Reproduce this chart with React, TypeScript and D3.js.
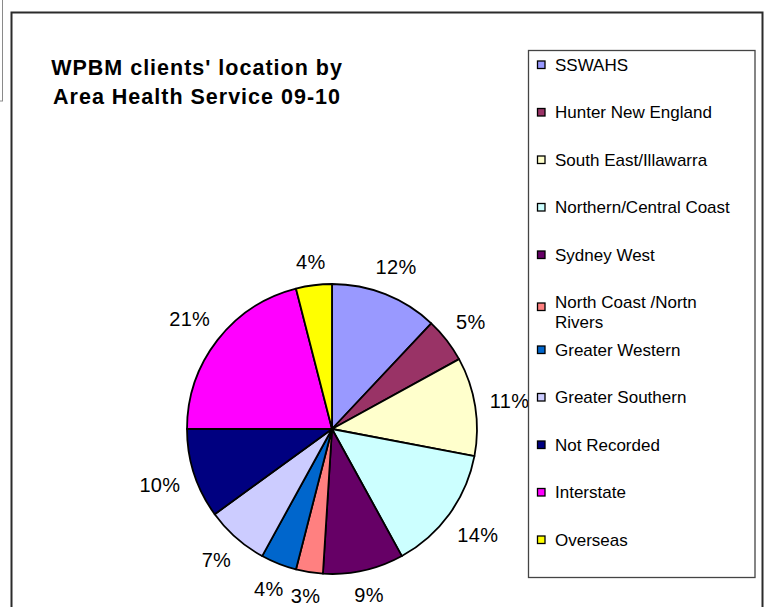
import { useEffect, useRef } from 'react';
import * as d3 from 'd3';

// Area Health Service categories (legend order, clockwise from 12 o'clock)
const regions = [
  'SSWAHS',
  'Hunter New England',
  'South East/Illawarra',
  'Northern/Central Coast',
  'Sydney West',
  'North Coast /Nortn\nRivers',
  'Greater Western',
  'Greater Southern',
  'Not Recorded',
  'Interstate',
  'Overseas',
];

// Percent of WPBM clients
const shares = [12, 5, 11, 14, 9, 3, 4, 7, 10, 21, 4];

const sliceColors = [
  '#9999ff',
  '#993366',
  '#ffffcc',
  '#ccffff',
  '#660066',
  '#ff8080',
  '#0066cc',
  '#ccccff',
  '#000080',
  '#ff00ff',
  '#ffff00',
];

const titleLines = ["WPBM clients' location by", 'Area Health Service 09-10'];

const FONT = 'Arial, "Liberation Sans", sans-serif';

export default function App() {
  const svgRef = useRef<SVGSVGElement>(null);

  useEffect(() => {
    if (!svgRef.current) return;
    const root = d3.select(svgRef.current);
    root.selectAll('*').remove();

    const width = 768;
    const height = 607;
    root.attr('width', width).attr('height', height);

    root.append('rect').attr('width', width).attr('height', height).attr('fill', 'white');

    // grey edge of a neighbouring object at top-left
    root
      .append('rect')
      .attr('x', -50)
      .attr('y', -10)
      .attr('width', 52.5)
      .attr('height', 111)
      .attr('fill', 'none')
      .attr('stroke', '#8a8a8a')
      .attr('stroke-width', 1);

    // chart frame
    root
      .append('rect')
      .attr('x', 11.5)
      .attr('y', 12.5)
      .attr('width', 751)
      .attr('height', 620)
      .attr('fill', 'white')
      .attr('stroke', '#2b2b2b')
      .attr('stroke-width', 2);

    // Title
    titleLines.forEach((t, i) => {
      root
        .append('text')
        .attr('x', 197)
        .attr('y', 75 + i * 28.5)
        .attr('text-anchor', 'middle')
        .attr('font-family', FONT)
        .attr('font-size', '21.5px')
        .attr('font-weight', 'bold')
        .attr('letter-spacing', '1px')
        .attr('fill', '#000')
        .text(t);
    });

    // Pie
    const cx = 332;
    const cy = 429;
    const radius = 145;

    const g = root.append('g').attr('transform', `translate(${cx}, ${cy})`);

    const pie = d3
      .pie<number>()
      .sort(null)
      .value(d => d);
    const arcs = pie(shares);

    const arc = d3.arc<d3.PieArcDatum<number>>().innerRadius(0).outerRadius(radius);

    g.selectAll('path.slice')
      .data(arcs)
      .enter()
      .append('path')
      .attr('class', 'slice')
      .attr('d', arc)
      .attr('fill', (d, i) => sliceColors[i])
      .attr('stroke', '#000')
      .attr('stroke-width', 1.8)
      .attr('stroke-linejoin', 'round');

    // Data labels sit a fixed gap outside the rim, pushed out by their box size
    const gap = 14;
    const halfH = 8;
    const labels = g
      .selectAll('text.pct')
      .data(arcs)
      .enter()
      .append('text')
      .attr('class', 'pct')
      .attr('text-anchor', 'middle')
      .attr('dy', '0.36em')
      .attr('font-family', FONT)
      .attr('font-size', '20px')
      .attr('letter-spacing', '0.3px')
      .attr('fill', '#000')
      .text(d => `${d.data}%`);

    labels.attr('transform', function (d) {
      const halfW = (this as SVGTextElement).getComputedTextLength() / 2;
      const a = (d.startAngle + d.endAngle) / 2;
      const s = Math.sin(a);
      const c = Math.cos(a);
      const dist = radius + gap + Math.abs(s) * halfW + Math.abs(c) * halfH;
      return `translate(${s * dist}, ${-c * dist})`;
    });

    // Legend
    const legend = root.append('g');
    legend
      .append('rect')
      .attr('x', 528.5)
      .attr('y', 50.5)
      .attr('width', 226.5)
      .attr('height', 527)
      .attr('fill', 'white')
      .attr('stroke', '#444')
      .attr('stroke-width', 1.3);

    const rowY = d3
      .scaleLinear()
      .domain([0, regions.length - 1])
      .range([64.5, 539.5]);

    regions.forEach((name, i) => {
      const lines = name.split('\n');
      const yc = rowY(i);
      const sqY = lines.length > 1 ? yc + 4.5 : yc;
      legend
        .append('rect')
        .attr('x', 537.5)
        .attr('y', sqY - 3.5)
        .attr('width', 7.5)
        .attr('height', 7.5)
        .attr('fill', sliceColors[i])
        .attr('stroke', '#000')
        .attr('stroke-width', 1.3);
      lines.forEach((ln, j) => {
        legend
          .append('text')
          .attr('x', 555)
          .attr('y', yc + 6 + j * 20)
          .attr('font-family', FONT)
          .attr('font-size', '17px')
          .attr('fill', '#000')
          .text(ln);
      });
    });
  }, []);

  return (
    <div style={{ position: 'absolute', left: 0, top: 0 }}>
      <svg ref={svgRef} style={{ display: 'block' }}></svg>
    </div>
  );
}
